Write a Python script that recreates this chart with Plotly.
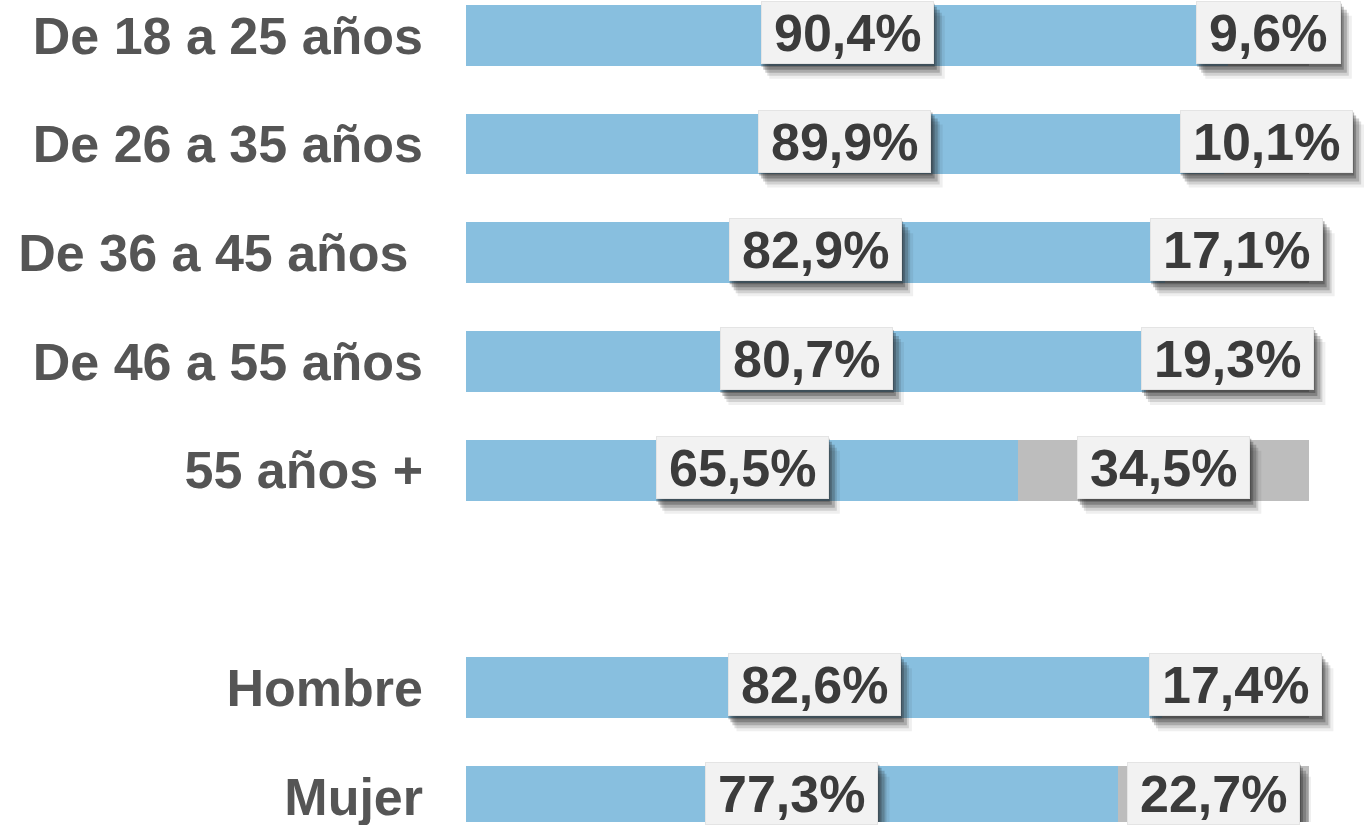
import plotly.graph_objects as go

# ---------------- data ----------------
categories = ["De 18 a 25 años", "De 26 a 35 años", "De 36 a 45 años\u00a0",
              "De 46 a 55 años", "55 años +", "Hombre", "Mujer"]
si_values = [90.4, 89.9, 82.9, 80.7, 65.5, 82.6, 77.3]
no_values = [9.6, 10.1, 17.1, 19.3, 34.5, 17.4, 22.7]

spacer = "\u2002"
category_order = categories[:5] + [spacer] + categories[5:]

# ---------------- style ----------------
BLUE = "#88bfdf"
GREY = "#bdbdbd"
BOX = "#f2f2f2"
LABEL_COLOR = "#3b3b3b"
CAT_COLOR = "#555555"
FONT = "Liberation Sans, Arial, Helvetica, sans-serif"
FS = 52
BOX_H = 57
PAD = 3
LIFT = 3                  # label boxes sit slightly above the bar centre
PLOT_LEFT = 466
BAR_PX_100 = 843          # pixel length of a full (100 %) bar
FIG_W, FIG_H = 1364, 825

CHAR_W = {",": 0.278, "%": 0.889}


def fmt(v):
    return f"{v:.1f}".replace(".", ",") + "%"


def text_w(s):
    return sum(CHAR_W.get(c, 0.556) for c in s) * FS


fig = go.Figure()
fig.add_trace(go.Bar(y=categories, x=si_values, orientation="h",
                     marker=dict(color=BLUE, line=dict(width=0)),
                     hoverinfo="skip", name="Sí"))
fig.add_trace(go.Bar(y=categories, x=no_values, orientation="h",
                     marker=dict(color=GREY, line=dict(width=0)),
                     hoverinfo="skip", name="No"))

annotations = []
shapes = []
# (dx, dy_down, grow, colour) — soft drop shadow built from stacked rectangles
shadow_layers = [(1, 3, 0, "rgba(30,30,30,0.30)"),
                 (3, 6, 0, "rgba(30,30,30,0.28)"),
                 (5, 9, 1, "rgba(30,30,30,0.22)"),
                 (7, 12, 1, "rgba(30,30,30,0.14)"),
                 (9, 15, 2, "rgba(30,30,30,0.07)")]


def add_label(x, y, txt):
    w = text_w(txt) + 20
    half_w = w / 2 + PAD
    half_h = BOX_H / 2 + PAD
    yi = category_order.index(y)
    for dx, dy, g, col in shadow_layers:
        shapes.append(dict(
            type="rect", xref="x", yref="y", xsizemode="pixel", ysizemode="pixel",
            xanchor=x, yanchor=yi,
            x0=-half_w + dx, x1=half_w + dx + g,
            y0=-half_h - dy + LIFT, y1=half_h - dy + LIFT,
            fillcolor=col, line=dict(width=0), layer="above"))
    annotations.append(dict(
        x=x, y=y, xref="x", yref="y", text=f"<b>{txt}</b>", showarrow=False,
        font=dict(family=FONT, size=FS, color=LABEL_COLOR),
        bgcolor=BOX, bordercolor="#e4e4e4", borderwidth=1, borderpad=PAD - 1,
        width=w, height=BOX_H, yshift=LIFT))


for cat, s, n in zip(categories, si_values, no_values):
    add_label(s / 2, cat, fmt(s))
    add_label(s + n / 2, cat, fmt(n))

x_max = 100 * (FIG_W - PLOT_LEFT) / BAR_PX_100

fig.update_layout(
    width=FIG_W, height=FIG_H,
    margin=dict(l=PLOT_LEFT, r=0, t=0, b=0),
    paper_bgcolor="white", plot_bgcolor="white",
    barmode="stack", bargap=0.44,
    showlegend=False,
    annotations=annotations,
    shapes=shapes,
    xaxis=dict(range=[0, x_max], visible=False, fixedrange=True),
    yaxis=dict(type="category", categoryorder="array",
               categoryarray=category_order,
               range=[7.236, -0.325],
               showgrid=False, zeroline=False, showline=False, ticks="",
               tickfont=dict(family=FONT, size=FS, color=CAT_COLOR, weight="bold"),
               ticklabelstandoff=42, fixedrange=True),
)

fig.write_html("out.html", config={"displayModeBar": False},
               post_script="document.body.style.margin='0px';")
